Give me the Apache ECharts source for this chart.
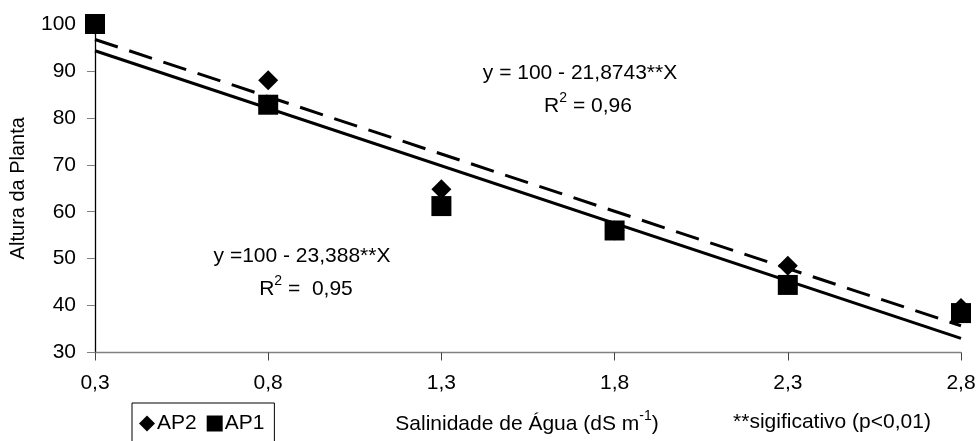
<!DOCTYPE html>
<html>
<head>
<meta charset="utf-8">
<script src="https://cdn.jsdelivr.net/npm/echarts@6/dist/echarts.min.js"></script>
<style>
html,body{margin:0;padding:0;background:#fff;}
#chart{width:979px;height:441px;}
</style>
</head>
<body>
<div id="chart"></div>
<script>
// Data
var xValues = [0.3, 0.8, 1.3, 1.8, 2.3, 2.8];
var ap2Values = [100, 88, 64.8, 56, 48.5, 39.5];
var ap1Values = [100, 82.8, 61.2, 56, 44.4, 38.4];
var ap2TrendX = [0.3, 2.8];
var ap2TrendY = [96.7, 35.7];
var ap1TrendX = [0.3, 2.8];
var ap1TrendY = [94.3, 33.0];
var xTicks = [0.3, 0.8, 1.3, 1.8, 2.3, 2.8];
var yTicks = [30, 40, 50, 60, 70, 80, 90, 100];

function pairs(xs, ys) { return xs.map(function (x, i) { return [x, ys[i]]; }); }

var FONT = 'Liberation Sans, Arial, sans-serif';
var FS = 21;
var chart = echarts.init(document.getElementById('chart'), null, {renderer: 'canvas'});

var supRich = {
  a: {fontSize: FS, fontFamily: FONT, lineHeight: 26, verticalAlign: 'bottom'},
  s: {fontSize: 14, fontFamily: FONT, lineHeight: 26, verticalAlign: 'top', padding: [0, 0, 9, 0]}
};

chart.setOption({
  backgroundColor: '#ffffff',
  animation: false,
  textStyle: {fontFamily: FONT, color: '#000'},
  grid: {left: 86, right: 18, top: 24, bottom: 88.5, containLabel: false},
  xAxis: {
    type: 'value', min: 0.3, max: 2.8,
    axisLine: {show: true, onZero: false, lineStyle: {color: '#808080', width: 1.3}},
    axisTick: {show: true, length: 8, customValues: xTicks, lineStyle: {color: '#444'}},
    axisLabel: {customValues: xTicks, margin: 20, fontSize: FS, fontFamily: FONT, color: '#000',
      formatter: function (v) { return v.toFixed(1).replace('.', ','); }},
    splitLine: {show: false}
  },
  yAxis: {
    type: 'value', min: 30, max: 100, interval: 10,
    name: 'Altura da Planta', nameLocation: 'middle', nameGap: 67,
    nameTextStyle: {fontSize: 20, fontFamily: FONT, color: '#000'},
    axisLine: {show: true, lineStyle: {color: '#000', width: 1.3}},
    axisTick: {show: true, length: 8, lineStyle: {color: '#808080'}},
    axisLabel: {margin: 19, fontSize: FS, fontFamily: FONT, color: '#000'},
    splitLine: {show: false}
  },
  legend: {
    left: 132, top: 403,
    data: [{name: 'AP2', icon: 'diamond'}, {name: 'AP1', icon: 'rect'}],
    itemWidth: 16, itemHeight: 16, itemGap: 10,
    padding: [10, 10, 14, 7],
    borderColor: '#000', borderWidth: 1,
    textStyle: {fontSize: FS, fontFamily: FONT, color: '#000', padding: [0, 0, 0, -3]}
  },
  series: [
    {name: 'AP2 trend', type: 'line', data: pairs(ap2TrendX, ap2TrendY), symbol: 'none', z: 2,
      lineStyle: {color: '#000', width: 3, type: [24, 12]}, silent: true},
    {name: 'AP1 trend', type: 'line', data: pairs(ap1TrendX, ap1TrendY), symbol: 'none', z: 2,
      lineStyle: {color: '#000', width: 3}, silent: true},
    {name: 'AP2', type: 'scatter', data: pairs(xValues, ap2Values), symbol: 'diamond', symbolSize: 20, z: 3,
      itemStyle: {color: '#000', opacity: 1}},
    {name: 'AP1', type: 'scatter', data: pairs(xValues, ap1Values), symbol: 'rect', symbolSize: 20, z: 4,
      itemStyle: {color: '#000', opacity: 1}}
  ],
  graphic: [
    {type: 'text', style: {x: 580, y: 73, text: 'y = 100 - 21,8743**X', align: 'center', verticalAlign: 'middle',
      font: FS + 'px ' + FONT, fill: '#000'}},
    {type: 'text', style: {x: 588, y: 104, align: 'center', verticalAlign: 'middle',
      text: '{a|R}{s|2}{a| = 0,96}', font: FS + 'px ' + FONT, fill: '#000', rich: supRich}},
    {type: 'text', style: {x: 302, y: 256, text: 'y =100 - 23,388**X', align: 'center', verticalAlign: 'middle',
      font: FS + 'px ' + FONT, fill: '#000'}},
    {type: 'text', style: {x: 306, y: 287, align: 'center', verticalAlign: 'middle',
      text: '{a|R}{s|2}{a| =  0,95}', font: FS + 'px ' + FONT, fill: '#000', rich: supRich}},
    {type: 'text', style: {x: 527, y: 422, align: 'center', verticalAlign: 'middle',
      text: '{a|Salinidade de Água (dS m}{s|-1}{a|)}', font: FS + 'px ' + FONT, fill: '#000', rich: supRich}},
    {type: 'text', style: {x: 832, y: 422, align: 'center', verticalAlign: 'middle',
      text: '**sigificativo (p<0,01)', font: FS + 'px ' + FONT, fill: '#000'}}
  ]
});
</script>
</body>
</html>
